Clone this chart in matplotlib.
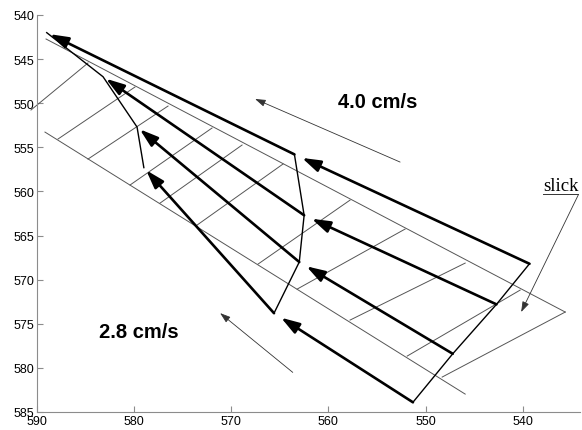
import matplotlib
matplotlib.use("Agg")
import matplotlib.pyplot as plt

plt.rcParams['font.family'] = ['Liberation Sans', 'DejaVu Sans']

# Particle positions: right edge (start), middle line, left line (end)
TRACK_X = {
    "A": [539.3, 563.5, 589.0],
    "B": [542.7, 562.5, 583.2],
    "C": [547.2, 563.0, 579.7],
    "D": [551.3, 565.6, 579.0],
}
TRACK_Y = {
    "A": [568.2, 555.8, 542.0],
    "B": [572.8, 562.7, 547.0],
    "C": [578.4, 568.0, 552.7],
    "D": [583.9, 573.8, 557.3],
}

# Slick outline (upper side, lower side, closing edge)
EDGE_X = [[589.07, 535.62], [589.18, 545.92], [535.62, 548.29]]
EDGE_Y = [[542.72, 573.67], [553.27, 582.97], [573.67, 581.04]]

# Cross lines of the slick grid
CROSS_X = [[590.62, 584.75], [587.84, 579.91], [584.75, 576.51], [580.42, 571.98],
           [577.33, 568.89], [573.52, 564.67], [567.24, 557.77], [563.22, 552.10],
           [557.77, 545.92], [551.89, 540.26]]
CROSS_Y = [[550.77, 545.44], [554.06, 548.16], [556.33, 550.32], [559.27, 552.81],
           [561.32, 554.74], [563.81, 556.89], [568.23, 560.98], [571.07, 564.26],
           [574.58, 568.12], [578.66, 571.18]]

# Current arrows: (tail, head) and label
CUR_LABELS = ["4.0 cm/s", "2.8 cm/s"]
CUR_X = [[552.62, 567.55], [563.67, 571.15]]
CUR_Y = [[556.67, 549.52], [580.51, 573.79]]
CUR_TEXT_X = [554.9, 579.5]
CUR_TEXT_Y = [549.75, 575.9]

# "slick" call-out
SLICK_TEXT = (536.1, 559.3)
SLICK_LINE_X = [537.9, 534.28]
SLICK_LINE_Y = [560.3, 560.3]
SLICK_PTR_X = [534.28, 540.16]
SLICK_PTR_Y = [560.4, 573.67]

fig = plt.figure(figsize=(5.82, 4.31), dpi=100)
ax = fig.add_axes([37 / 582, 18 / 431, 543 / 582, 397 / 431])

grid_kw = dict(color="#555555", lw=0.7)
for xs, ys in zip(EDGE_X, EDGE_Y):
    ax.plot(xs, ys, **grid_kw)
for xs, ys in zip(CROSS_X, CROSS_Y):
    ax.plot(xs, ys, clip_on=False, **grid_kw)

# thin lines joining the positions at each time
for i in range(3):
    xs = [TRACK_X[k][i] for k in "ABCD"]
    ys = [TRACK_Y[k][i] for k in "ABCD"]
    ax.plot(xs, ys, color="black", lw=1.0)

# thick trajectory arrows
shrink = [6, 2.5]
for k in "ABCD":
    xs, ys = TRACK_X[k], TRACK_Y[k]
    for i in range(2):
        ax.annotate("", xy=(xs[i + 1], ys[i + 1]), xytext=(xs[i], ys[i]),
                    arrowprops=dict(arrowstyle="-|>,head_length=1.0,head_width=0.32",
                                    mutation_scale=11, lw=1.9, color="black",
                                    shrinkA=0, shrinkB=shrink[i]))

for lab, xs, ys, tx, ty in zip(CUR_LABELS, CUR_X, CUR_Y, CUR_TEXT_X, CUR_TEXT_Y):
    ax.annotate("", xy=(xs[1], ys[1]), xytext=(xs[0], ys[0]),
                arrowprops=dict(arrowstyle="-|>,head_length=0.9,head_width=0.3",
                                mutation_scale=7, lw=0.6, color="#333333",
                                shrinkA=0, shrinkB=0))
    ax.text(tx, ty, lab, fontsize=14.5, fontweight="bold", ha="center", va="center")

ax.text(*SLICK_TEXT, "slick", fontsize=13.5, family="Liberation Serif",
        ha="center", va="center")
ax.plot(SLICK_LINE_X, SLICK_LINE_Y, color="#333333", lw=0.7, clip_on=False)
ax.annotate("", xy=(SLICK_PTR_X[1], SLICK_PTR_Y[1]), xytext=(SLICK_PTR_X[0], SLICK_PTR_Y[0]),
            arrowprops=dict(arrowstyle="-|>,head_length=0.9,head_width=0.3",
                            mutation_scale=7, lw=0.6, color="#333333",
                            shrinkA=0, shrinkB=0), annotation_clip=False)

ax.set_xlim(590, 534.1)
ax.set_ylim(585, 540)
ax.set_xticks([590, 580, 570, 560, 550, 540])
ax.set_yticks([540, 545, 550, 555, 560, 565, 570, 575, 580, 585])
for s in ["top", "right"]:
    ax.spines[s].set_visible(False)
for s in ["left", "bottom"]:
    ax.spines[s].set_color("#8c8c8c")
ax.tick_params(direction="in", length=4, color="#8c8c8c", labelsize=9, pad=2)

fig.savefig("out.png", dpi=100)
